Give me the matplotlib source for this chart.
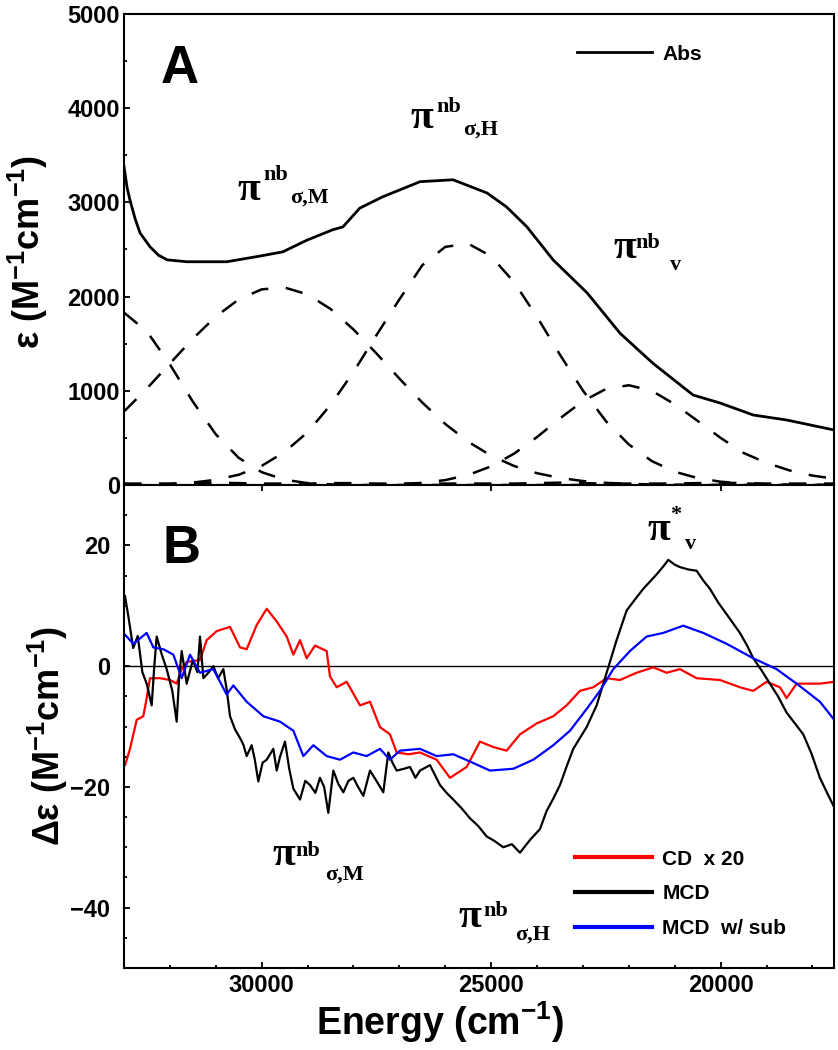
import matplotlib
matplotlib.use("Agg")
import matplotlib.pyplot as plt
from matplotlib.ticker import MultipleLocator

plt.rcParams['font.family'] = ['Liberation Sans', 'DejaVu Sans']
plt.rcParams['font.weight'] = 'bold'
plt.rcParams['mathtext.fontset'] = 'custom'
plt.rcParams['mathtext.rm'] = 'Liberation Sans:bold'
plt.rcParams['mathtext.it'] = 'Liberation Sans:bold'
plt.rcParams['mathtext.bf'] = 'Liberation Sans:bold'

# ---- panel A: absorption and gaussian fit ----
abs_e = [33000, 32930, 32870, 32760, 32650, 32430, 32250, 32060, 31630, 30760,
         30040, 29540, 29010, 28450, 28230, 27860, 27360, 26550, 25830, 25090,
         24660, 24220, 23650, 22910, 22190, 21470, 20600, 20010, 19290, 18560, 17530]
abs_y = [3380, 3150, 3025, 2830, 2675, 2527, 2440, 2390, 2370, 2370,
         2430, 2475, 2600, 2710, 2740, 2940, 3060, 3220, 3240, 3100,
         2950, 2740, 2390, 2040, 1610, 1290, 955, 870, 743, 690, 584]

fit_e = [33000, 32500, 32000, 31500, 31000, 30500, 30000, 29500, 29000, 28500,
         28000, 27500, 27000, 26500, 26000, 25500, 25000, 24500, 24000, 23500,
         23000, 22500, 22000, 21500, 21000, 20500, 20000, 19500, 19000, 18500,
         18000, 17500]
band_1 = [1830, 1630, 1280, 885, 538, 288, 136, 56, 20, 7,
          0, 0, 0, 0, 0, 0, 0, 0, 0, 0,
          0, 0, 0, 0, 0, 0, 0, 0, 0, 0, 0, 0]
band_2 = [780, 1025, 1290, 1553, 1788, 1970, 2077, 2096, 2023, 1869,
          1651, 1397, 1130, 875, 648, 459, 311, 202, 125, 75,
          42, 23, 12, 6, 3, 0, 0, 0, 0, 0, 0, 0]
band_3 = [2, 5, 11, 26, 55, 109, 203, 351, 560, 850,
          1200, 1590, 1970, 2333, 2528, 2562, 2428, 2152, 1784, 1382,
          1002, 678, 430, 254, 141, 73, 35, 17, 8, 3, 1, 0]
band_4 = [0, 0, 0, 0, 0, 0, 0, 0, 0, 0,
          0, 0, 9, 23, 52, 107, 198, 333, 509, 707,
          891, 1019, 1059, 1000, 857, 680, 500, 340, 235, 155, 100, 65]
band_5 = [15, 15, 15, 20, 25, 20, 15, 15, 15, 20,
          20, 15, 15, 15, 15, 15, 15, 15, 20, 25,
          20, 15, 15, 15, 15, 20, 25, 20, 15, 15, 15, 15]

# ---- panel B: CD / MCD ----
mcd_e = [32978, 32900, 32800, 32700, 32600, 32506, 32397, 32340, 32288, 32180,
         32070, 31950, 31852, 31800, 31743, 31634, 31500, 31400, 31344, 31271,
         31150, 31053, 30950, 30835, 30760, 30690, 30580, 30472, 30400, 30327,
         30218, 30150, 30073, 29980, 29891, 29746, 29673, 29600, 29492, 29400,
         29310, 29165, 29050, 28947, 28830, 28730, 28640, 28548, 28439, 28330,
         28221, 28110, 28003, 27900, 27785, 27640, 27500, 27350, 27241, 27150,
         27059, 26900, 26769, 26650, 26551, 26333, 26115, 25970, 25825, 25650,
         25462, 25280, 25099, 24920, 24736, 24550, 24372, 24155, 23937, 23792,
         23650, 23501, 23350, 23211, 22920, 22702, 22484, 22267, 22049, 21870,
         21686, 21540, 21395, 21250, 21141, 21000, 20887, 20700, 20524, 20380,
         20233, 20050, 19870, 19720, 19580, 19430, 19289, 19100, 18926, 18750,
         18563, 18380, 18200, 18020, 17837, 17680, 17524]
mcd_y = [11.6, 8, 3, 5, -1, -2.9, -6.5, 0, 4.9, 2,
         -0.5, -4, -9.2, -2, 2.5, -2.9, 1, -1, 4.9, -2,
         -1, 0, -2, -0.5, -4, -8.3, -10.5, -11.9, -13, -14.9,
         -13.1, -15.5, -19.1, -16, -15.5, -13.7, -17.3, -15, -12.5, -17,
         -20.3, -22.1, -19, -19.7, -21, -18.5, -20, -24.3, -17.3, -19.5,
         -20.9, -19, -18.5, -20, -21.5, -17.3, -19, -20.9, -14.3, -16,
         -17.3, -17, -16.7, -18.5, -17.3, -16.4, -19.7, -21, -22.1, -23.5,
         -25.2, -26.5, -28.2, -29, -30, -29.5, -30.9, -28.8, -27, -24,
         -22, -19.7, -16.5, -13.7, -10.1, -6.5, -1.1, 4.3, 9.2, 11,
         12.8, 14, 15.2, 16.5, 17.6, 16.8, 16.4, 16, 15.8, 14.2,
         12.8, 10.5, 8.6, 7, 5.5, 3.5, 1.3, -0.8, -2.9, -5,
         -7.7, -9.5, -11.3, -14.5, -18.5, -21, -23.4]

cd_e = [32978, 32869, 32724, 32579, 32506, 32433, 32215, 31997, 31852, 31743,
        31634, 31344, 31199, 30980, 30690, 30472, 30327, 30109, 29891, 29673,
        29455, 29310, 29165, 29020, 28838, 28584, 28512, 28366, 28148, 27858,
        27640, 27423, 27205, 27059, 26800, 26551, 26188, 25897, 25534, 25244,
        24954, 24663, 24372, 24010, 23646, 23356, 23066, 22775, 22484, 22194,
        21831, 21468, 21177, 20887, 20524, 20015, 19580, 19289, 19000, 18708,
        18563, 18345, 17837, 17524]
cd_y = [-16.4, -13.7, -8.9, -8.3, -5.3, -2, -2, -2.3, -2.9, -0.5,
        0.7, 1, 4.3, 5.8, 6.5, 3.1, 2.8, 6.8, 9.5, 7.4,
        4.9, 1.9, 4.3, 1.3, 3.4, 2.5, -1.7, -3.5, -2.6, -6.5,
        -5.9, -10.1, -11.3, -14.3, -14.6, -14.3, -15.5, -18.5, -16.7, -12.5,
        -13.4, -14, -11.3, -9.5, -8.3, -6.5, -4.1, -3.5, -2, -2.3,
        -1.1, -0.2, -1.1, -0.5, -2, -2.3, -3.5, -4.1, -2.6, -3.5,
        -5.3, -2.9, -2.9, -2.6]

sub_e = [32978, 32796, 32506, 32361, 32143, 31925, 31743, 31562, 31344, 31053,
         30763, 30618, 30327, 29964, 29600, 29310, 29092, 28874, 28584, 28294,
         28003, 27713, 27423, 27205, 26987, 26551, 26188, 25825, 25462, 25026,
         24518, 24082, 23646, 23283, 22920, 22630, 22339, 21976, 21613, 21250,
         20815, 20379, 19870, 19289, 18781, 18345, 17837, 17524]
sub_y = [5.2, 3.7, 5.5, 3.1, 2.8, 1.9, -2, 1.9, -1.1, -0.5,
         -4.7, -3.2, -5.9, -8.3, -9.2, -10.7, -14.9, -13.1, -14.9, -15.5,
         -14.3, -14.9, -13.7, -15.5, -14, -13.7, -14.9, -14.6, -15.8, -17.3,
         -17, -15.5, -13.1, -10.7, -7.1, -4.1, -0.5, 2.5, 4.9, 5.5,
         6.7, 5.5, 3.7, 1.3, -0.5, -2.9, -5.9, -8.9]

zero_level = 0

PX = 0.72  # pixel -> points at 100 dpi


def pi_label(ax, x, y, sup, sub, sup_off, sub_off):
    serif = dict(family='Liberation Serif', weight='bold', color='black')
    ax.text(x, y, 'π', fontsize=30, ha='left', va='baseline', **serif)
    ax.annotate(sup, (x, y), xytext=(sup_off[0] * PX, sup_off[1] * PX),
                textcoords='offset points', fontsize=16, ha='left', va='baseline', **serif)
    ax.annotate(sub, (x, y), xytext=(sub_off[0] * PX, sub_off[1] * PX),
                textcoords='offset points', fontsize=16, ha='left', va='baseline', **serif)


def style_axis(ax):
    for s in ax.spines.values():
        s.set_linewidth(1.5)
    ax.tick_params(which='both', direction='in', width=1.3, labelsize=17)
    ax.tick_params(which='major', length=4.5)
    ax.tick_params(which='minor', length=2.5)


fig = plt.figure(figsize=(8.38, 10.5), dpi=100)
ax1 = fig.add_axes([124 / 838, 1 - 485 / 1050, 710 / 838, 471 / 1050])
ax2 = fig.add_axes([124 / 838, 1 - 968 / 1050, 710 / 838, 483 / 1050])

# panel A
ax1.plot(abs_e, abs_y, color='black', lw=2, label='Abs')
for band in [band_1, band_2, band_3, band_4, band_5]:
    ax1.plot(fit_e, band, color='black', lw=1.8, dashes=(7, 7))
ax1.set_xlim(33000, 17530)
ax1.set_ylim(0, 5000)
ax1.yaxis.set_major_locator(MultipleLocator(1000))
ax1.yaxis.set_minor_locator(MultipleLocator(500))
style_axis(ax1)
ax1.tick_params(axis='x', which='both', bottom=False, labelbottom=False)
ax1.tick_params(axis='y', pad=3)
ax1.set_ylabel('ε (M$^{-1}$cm$^{-1}$)', fontsize=26, fontweight='bold')
ax1.yaxis.set_label_coords(-0.104, 0.495)
ax1.text(0.051, 0.853, 'A', transform=ax1.transAxes, fontsize=38, fontweight='bold')
ax1.legend(loc='upper left', bbox_to_anchor=(0.638, 0.935), frameon=False,
           fontsize=15, handlelength=3.6, handletextpad=0.5, borderpad=0, borderaxespad=0)

pi_label(ax1, 30538, 3026, 'nb', 'σ,M', (26, 20), (53, -3))
pi_label(ax1, 26769, 3790, 'nb', 'σ,H', (26, 16), (53, -7))
pi_label(ax1, 22346, 2410, 'nb', 'v', (22, 10), (57, -12))

# panel B
ax2.axhline(zero_level, color='black', lw=1)
ax2.plot(cd_e, cd_y, color='#ff0000', lw=1.6, label='CD  x 20')
ax2.plot(mcd_e, mcd_y, color='black', lw=1.6, label='MCD')
ax2.plot(sub_e, sub_y, color='#0000ff', lw=1.6, label='MCD  w/ sub')
ax2.set_xlim(33000, 17530)
ax2.set_ylim(-50, 30)
ax2.xaxis.set_major_locator(MultipleLocator(5000))
ax2.xaxis.set_minor_locator(MultipleLocator(1000))
ax2.yaxis.set_major_locator(MultipleLocator(20))
ax2.yaxis.set_minor_locator(MultipleLocator(5))
style_axis(ax2)
ax2.tick_params(axis='x', which='major', top=True, pad=4)
ax2.tick_params(axis='y', pad=10)
ax2.set_ylabel('Δε (M$^{-1}$cm$^{-1}$)', fontsize=26, fontweight='bold')
ax2.yaxis.set_label_coords(-0.076, 0.48)
ax2.set_xlabel('Energy (cm$^{-1}$)', fontsize=27, fontweight='bold')
ax2.xaxis.set_label_coords(0.445, -0.066)
ax2.text(0.054, 0.838, 'B', transform=ax2.transAxes, fontsize=38, fontweight='bold')
leg = ax2.legend(loc='upper left', bbox_to_anchor=(0.635, 0.245), frameon=False,
                 fontsize=15, handlelength=3.7, handletextpad=0.5, labelspacing=0.75,
                 borderpad=0, borderaxespad=0)
for line in leg.get_lines():
    line.set_linewidth(3)

pi_label(ax2, 21584, 20.9, '*', 'v', (22, 20), (37, -9))
pi_label(ax2, 29776, -32.9, 'nb', 'σ,M', (23, 9), (53, -15))
pi_label(ax2, 25723, -43.2, 'nb', 'σ,H', (25, 11), (57, -13))

fig.savefig('out.png', dpi=100)
